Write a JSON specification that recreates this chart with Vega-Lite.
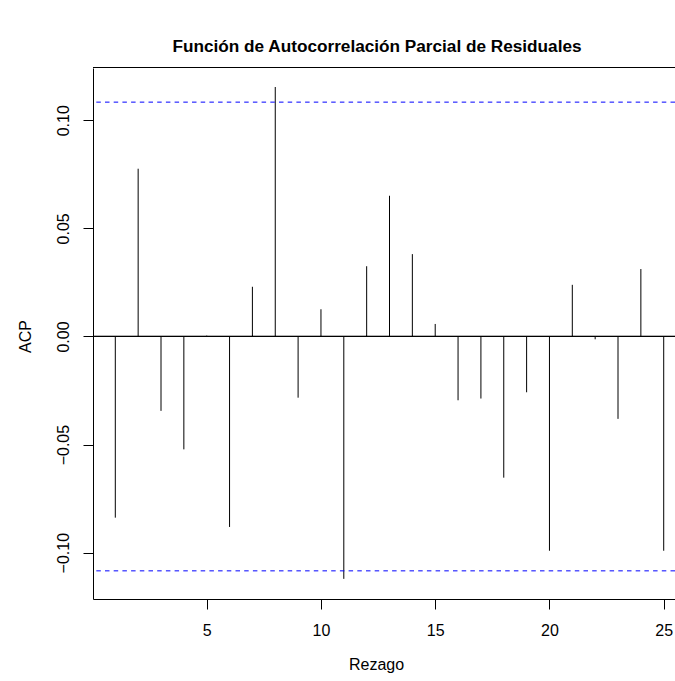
{
  "$schema": "https://vega.github.io/schema/vega-lite/v6.json",
  "width": 582,
  "height": 531,
  "autosize": {"type": "none"},
  "padding": {"left": 93, "top": 68, "right": 0, "bottom": 82},
  "background": "white",
  "title": {
    "text": "Función de Autocorrelación Parcial de Residuales",
    "font": "Liberation Sans",
    "fontSize": 17.2,
    "fontWeight": "bold",
    "color": "black",
    "anchor": "middle",
    "baseline": "alphabetic",
    "offset": -2,
    "dx": -7
  },
  "data": {
    "values": [
      {"lag": 1, "acp": -0.0838},
      {"lag": 2, "acp": 0.0776},
      {"lag": 3, "acp": -0.0344},
      {"lag": 4, "acp": -0.0522},
      {"lag": 5, "acp": 0.0004},
      {"lag": 6, "acp": -0.0881},
      {"lag": 7, "acp": 0.0230},
      {"lag": 8, "acp": 0.1154},
      {"lag": 9, "acp": -0.0283},
      {"lag": 10, "acp": 0.0126},
      {"lag": 11, "acp": -0.1121},
      {"lag": 12, "acp": 0.0325},
      {"lag": 13, "acp": 0.0651},
      {"lag": 14, "acp": 0.0381},
      {"lag": 15, "acp": 0.0058},
      {"lag": 16, "acp": -0.0295},
      {"lag": 17, "acp": -0.0287},
      {"lag": 18, "acp": -0.0653},
      {"lag": 19, "acp": -0.0258},
      {"lag": 20, "acp": -0.0991},
      {"lag": 21, "acp": 0.0239},
      {"lag": 22, "acp": -0.0013},
      {"lag": 23, "acp": -0.0381},
      {"lag": 24, "acp": 0.0312},
      {"lag": 25, "acp": -0.0991}
    ]
  },
  "layer": [
    {
      "mark": {"type": "rule", "color": "black", "strokeWidth": 1},
      "encoding": {
        "x": {
          "field": "lag",
          "type": "quantitative",
          "scale": {"domain": [0.024, 25.494], "nice": false, "zero": false},
          "axis": {
            "title": "Rezago",
            "values": [5, 10, 15, 20, 25],
            "format": "d",
            "grid": false,
            "domainColor": "black",
            "tickColor": "black",
            "tickSize": 10,
            "labelFont": "Liberation Sans",
            "labelFontSize": 16,
            "labelColor": "black",
            "labelBaseline": "middle",
            "labelPadding": 21,
            "titleFont": "Liberation Sans",
            "titleFontSize": 16,
            "titleFontWeight": "normal",
            "titleColor": "black",
            "titleBaseline": "middle",
            "titleAnchor": null,
            "titleX": 283,
            "titleY": 65
          }
        },
        "y": {
          "field": "acp",
          "type": "quantitative",
          "scale": {"domain": [-0.12142, 0.12419], "nice": false, "zero": false},
          "axis": {
            "title": "ACP",
            "values": [-0.1, -0.05, 0, 0.05, 0.1],
            "format": ".2f",
            "grid": false,
            "domainColor": "black",
            "tickColor": "black",
            "tickSize": 10,
            "labelFont": "Liberation Sans",
            "labelFontSize": 16,
            "labelColor": "black",
            "labelAngle": 270,
            "labelAlign": "center",
            "labelBaseline": "middle",
            "labelPadding": 20,
            "titleFont": "Liberation Sans",
            "titleFontSize": 16,
            "titleFontWeight": "normal",
            "titleColor": "black",
            "titleAngle": 270,
            "titleAlign": "center",
            "titleBaseline": "middle",
            "titleAnchor": null,
            "titleX": -68,
            "titleY": 268
          }
        },
        "y2": {"datum": 0}
      }
    },
    {
      "mark": {"type": "rule", "color": "black", "strokeWidth": 1},
      "encoding": {"y": {"datum": 0, "type": "quantitative"}}
    },
    {
      "mark": {"type": "rule", "color": "black", "strokeWidth": 1},
      "encoding": {"y": {"datum": 0.12442, "type": "quantitative"}}
    },
    {
      "data": {"values": [{"limite": 0.1084}, {"limite": -0.1084}]},
      "mark": {"type": "rule", "color": "blue", "strokeWidth": 1, "strokeDash": [4.5, 4.2]},
      "encoding": {"y": {"field": "limite", "type": "quantitative"}}
    }
  ],
  "config": {
    "view": {"stroke": null},
    "axis": {"grid": false}
  }
}
